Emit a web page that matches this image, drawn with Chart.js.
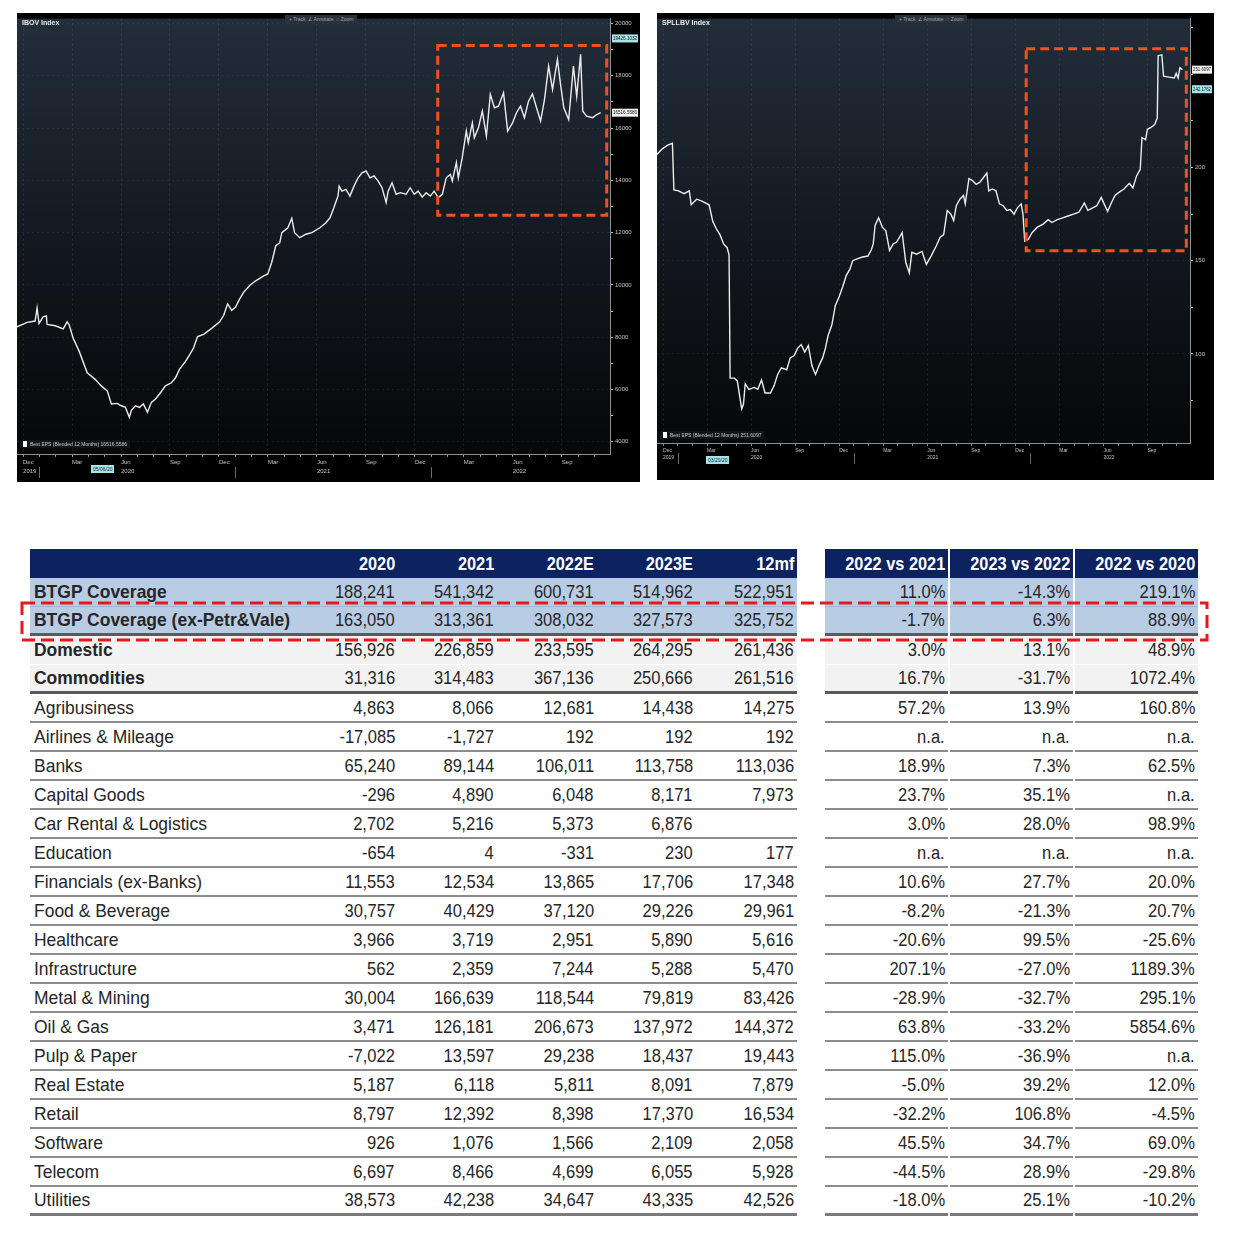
<!DOCTYPE html>
<html>
<head>
<meta charset="utf-8">
<title>IBOV / SPLLBV EPS and BTGP coverage earnings</title>
<script src="https://cdn.jsdelivr.net/npm/chart.js@4.4.0/dist/chart.umd.min.js"></script>
<style>
  body { margin: 0; width: 1234px; height: 1238px; background: #fff; position: relative; overflow: hidden;
         font-family: "Liberation Sans", Arial, sans-serif; }
  .panel { position: absolute; background: #000; }
  .panel canvas { position: absolute; left: 0; top: 0; }
  .bbg-title { position: absolute; color: #e8e8e8; font: bold 7px "Liberation Sans", sans-serif; }
  .bbg-tools { position: absolute; background: #2b3139; color: #9ca5ae; font: 5px "Liberation Sans", sans-serif;
               padding: 1px 4px; white-space: nowrap; }
  .bbg-legend { position: absolute; color: #c8c8c8; font: 5px "Liberation Sans", sans-serif; white-space: nowrap;
                background: rgba(20,22,26,0.9); padding: 1px 3px; }
  .bbg-legend i { display: inline-block; width: 4px; height: 6px; background: #fff; margin-right: 3px; vertical-align: -1px; }
  .bbg-date { position: absolute; background: #a6e4e8; color: #123; font: 5px "Liberation Sans", sans-serif; padding: 1px 2px; }
  .tbl { position: absolute; top: 549px; color: #262626; font-size: 19px; }
  .row { display: flex; height: 29px; }
  .cell { box-sizing: border-box; height: 29px; display: flex; align-items: center; justify-content: flex-end;
          padding-right: 3px; white-space: nowrap; }
  .cell.lbl { justify-content: flex-start; padding-left: 4px; }
  .t { display: inline-block; transform: scaleX(0.87); transform-origin: right center; }
  .lbl .t { transform: scaleX(0.92); transform-origin: left center; }
  .hdr .t { transform: scaleX(0.86); }
  .hdr .cell { background: #0c2261; color: #fff; font-weight: bold; }
  .blue .cell { background: #b8cce4; }
  .grey .cell { background: #f2f2f2; }
  .strong .lbl { font-weight: bold; }
  .gap .cell + .cell { margin-left: 2px; }
</style>
</head>
<body>

<div class="panel" style="left:17px;top:13px;width:623px;height:469px">
  <canvas id="ibovChart" width="623" height="469"></canvas>
  <div class="bbg-title" style="left:5px;top:6px">IBOV Index</div>
  <div class="bbg-tools" style="left:268px;top:2px">+ Track &nbsp;&#8736; Annotate &nbsp;&#9675; Zoom</div>
  <div class="bbg-legend" style="left:3px;top:427px"><i></i>Best EPS (Blended 12 Months) 16516.5586</div>
  <div class="bbg-date" style="left:74px;top:452px">05/06/20</div>
</div>

<div class="panel" style="left:657px;top:13px;width:557px;height:467px">
  <canvas id="spllbvChart" width="557" height="467"></canvas>
  <div class="bbg-title" style="left:5px;top:6px">SPLLBV Index</div>
  <div class="bbg-tools" style="left:238px;top:2px">+ Track &nbsp;&#8736; Annotate &nbsp;&#9675; Zoom</div>
  <div class="bbg-legend" style="left:3px;top:418px"><i></i>Best EPS (Blended 12 Months) 251.6097</div>
  <div class="bbg-date" style="left:49px;top:443px">03/20/20</div>
</div>

<div class="tbl" id="earnTable" style="left:30px;width:767px"></div>
<div class="tbl" id="growthTable" style="left:825px;width:373px"></div>
<svg width="1190" height="42" style="position:absolute;left:20px;top:601px">
  <rect x="2" y="2" width="1185" height="37" fill="none" stroke="#e3191c" stroke-width="3" stroke-dasharray="13 6"/>
</svg>

<script>
// ---- chart data: x is months after Dec 2019, y is Best EPS (blended 12m) ----
const ibovMonths = [-0.37,0.25,0.74,0.86,0.98,1.23,1.43,1.47,1.97,2.46,2.70,2.83,3.07,3.44,3.93,4.42,4.79,5.16,5.41,5.77,
  6.02,6.27,6.51,6.63,6.88,7.13,7.37,7.62,7.86,8.11,8.35,8.72,9.09,9.34,9.58,9.95,10.20,10.44,10.69,11.06,
  11.55,12.04,12.29,12.53,12.78,13.02,13.27,13.51,13.88,14.25,14.74,14.99,15.23,15.48,15.72,15.85,16.22,16.46,16.63,16.95,
  17.32,17.69,18.18,18.55,18.80,19.04,19.29,19.36,19.53,19.78,20.02,20.27,20.52,20.76,21.01,21.25,21.50,21.74,21.99,22.24,
  22.36,22.60,22.85,23.10,23.46,23.71,23.96,24.20,24.45,24.69,24.94,25.18,25.43,25.68,25.92,26.17,26.29,26.54,26.66,26.90,
  27.15,27.27,27.52,27.64,27.89,28.13,28.38,28.62,28.87,29.12,29.43,29.68,29.98,30.22,30.47,30.71,30.96,31.20,31.45,31.70,
  31.94,32.19,32.43,32.73,32.92,33.12,33.42,33.71,33.91,34.15,34.28,34.52,34.89,35.14,35.38];
const ibovEps = [8400,8570,8620,9120,8530,8780,8820,8490,8440,8320,8590,8470,7960,7460,6640,6390,6140,5950,5450,5470,
  5380,5320,4940,5200,5380,5320,5450,5130,5510,5640,5820,6140,6260,6450,6770,7080,7330,7590,8030,8110,
  8340,8590,8840,9280,9030,9160,9470,9720,9980,10160,10350,10420,10860,11500,11610,12000,12190,12550,12000,11810,
  11940,12000,12190,12380,12570,12960,13400,13780,13590,13660,13400,13780,14100,14290,14360,14100,14170,13980,13720,13150,
  13590,13910,13470,13530,13470,13720,13470,13590,13360,13530,13400,13590,13340,13470,14100,14230,13980,14680,14100,14870,
  15890,15440,16200,15630,16010,16650,15700,17290,16780,16840,17350,15890,16200,16590,16840,16400,17030,17310,16780,16270,
  17100,18370,17480,18630,17670,16780,16330,18370,17220,18820,16650,16460,16400,16520,16590];

const spllbvMonths = [-0.42,-0.05,0.32,0.64,0.74,1.06,1.43,1.79,1.92,2.29,2.65,3.14,3.39,3.64,3.88,4.13,4.37,4.50,4.57,4.86,
  5.06,5.23,5.36,5.48,5.60,5.85,6.22,6.46,6.71,6.95,7.32,7.57,7.81,8.06,8.43,8.67,8.92,9.17,9.41,9.66,
  9.90,10.15,10.39,10.64,10.88,11.06,11.25,11.50,11.74,11.99,12.24,12.48,12.73,12.92,13.22,13.59,13.96,14.20,14.32,14.45,
  14.69,14.94,15.18,15.43,15.68,15.92,16.29,16.54,16.78,16.95,17.27,17.64,17.94,18.26,18.62,18.87,19.12,19.36,19.61,19.80,
  19.98,20.22,20.47,20.59,20.84,21.08,21.33,21.57,21.82,22.06,22.19,22.43,22.68,22.92,23.17,23.42,23.66,23.91,24.15,24.40,
  24.52,24.64,24.89,25.14,25.50,25.87,26.24,26.49,26.86,27.22,27.59,27.96,28.33,28.70,28.94,29.31,29.55,29.85,30.05,30.29,
  30.54,30.79,31.03,31.40,31.77,32.01,32.26,32.51,32.63,32.87,33.00,33.24,33.49,33.67,33.73,33.98,34.10,34.46,34.83,34.96,
  35.09,35.21,35.38];
const spllbvEps = [207,210,212,213,188,187.5,186,187.5,180,183,182,180,171,167,164,159,157,153,87,87,
  85.5,77,70.5,73,84,81,82,81,86,79,79,83,89,92.5,91.5,98,99,103,105,101,
  104.5,93.5,89,94,98,103,110,115.5,126,130.5,136,142,145.5,150,151,152,152.5,156,159,169,
  173,168,166,155.5,159,160,165,149,143.5,154.5,153.5,155,148,152.5,158,162.5,164,177,175,171.5,
  179.5,183,185,180.5,194,193,191,192,194.5,197,187.5,188.5,187.5,180.5,179.5,177,177.5,175,178.5,180.5,
  175,160.5,161.5,165,168,169.5,172,170.5,172,173,174,175,176,181,177,178.5,179.5,184,180.5,176.5,
  181,185,186.5,188.5,191.5,189,195.5,199,216,215,220.5,221.5,223,226.5,260,260.5,249,248.5,248,250.5,
  248,253.5,252.5];

// x axis: quarter ticks (months after Dec 2019) and their labels
const quarterTicks = [0,3,6,9,12,15,18,21,24,27,30,33];
const quarterLabels = ['Dec','Mar','Jun','Sep','Dec','Mar','Jun','Sep','Dec','Mar','Jun','Sep'];
const yearLabels = ['2019','','2020','','','','2021','','','','2022',''];
const yearStarts = [1,13,25];

// y axis ticks
const ibovTicks = [4000,5000,6000,7000,8000,9000,10000,11000,12000,13000,14000,15000,16000,17000,18000,19000,20000];
const ibovLabelled = [4000,6000,8000,10000,12000,14000,16000,18000,20000];
const spllbvTicks = [75,100,125,150,175,200,225,250,275];
const spllbvLabelled = [100,150,200];

// highlighted windows [fromMonth, toMonth, lowEps, highEps]
const ibovWindow = [25.4, 35.75, 12670, 19160];
const spllbvWindow = [24.74, 35.65, 155.3, 263.7];

// ---- table data ----
const sectorNames = ['BTGP Coverage','BTGP Coverage (ex-Petr&Vale)','Domestic','Commodities','Agribusiness',
  'Airlines & Mileage','Banks','Capital Goods','Car Rental & Logistics','Education','Financials (ex-Banks)',
  'Food & Beverage','Healthcare','Infrastructure','Metal & Mining','Oil & Gas','Pulp & Paper','Real Estate',
  'Retail','Software','Telecom','Utilities'];
const earningsHeaders = ['2020','2021','2022E','2023E','12mf'];
const eps2020 = [188241,163050,156926,31316,4863,-17085,65240,-296,2702,-654,11553,30757,3966,562,30004,3471,-7022,5187,8797,926,6697,38573];
const eps2021 = [541342,313361,226859,314483,8066,-1727,89144,4890,5216,4,12534,40429,3719,2359,166639,126181,13597,6118,12392,1076,8466,42238];
const eps2022E = [600731,308032,233595,367136,12681,192,106011,6048,5373,-331,13865,37120,2951,7244,118544,206673,29238,5811,8398,1566,4699,34647];
const eps2023E = [514962,327573,264295,250666,14438,192,113758,8171,6876,230,17706,29226,5890,5288,79819,137972,18437,8091,17370,2109,6055,43335];
const eps12mf = [522951,325752,261436,261516,14275,192,113036,7973,null,177,17348,29961,5616,5470,83426,144372,19443,7879,16534,2058,5928,42526];
const growthHeaders = ['2022 vs 2021','2023 vs 2022','2022 vs 2020'];
const chg22vs21 = [11.0,-1.7,3.0,16.7,57.2,null,18.9,23.7,3.0,null,10.6,-8.2,-20.6,207.1,-28.9,63.8,115.0,-5.0,-32.2,45.5,-44.5,-18.0];
const chg23vs22 = [-14.3,6.3,13.1,-31.7,13.9,null,7.3,35.1,28.0,null,27.7,-21.3,99.5,-27.0,-32.7,-33.2,-36.9,39.2,106.8,34.7,28.9,25.1];
const chg22vs20 = [219.1,88.9,48.9,1072.4,160.8,null,62.5,null,98.9,null,20.0,20.7,-25.6,1189.3,295.1,5854.6,null,12.0,-4.5,69.0,-29.8,-10.2];

// ---- Bloomberg style chart ----
const bbgPlugin = {
  id: 'bbg',
  beforeDraw(chart) {
    const { ctx, chartArea: a } = chart;
    ctx.save();
    ctx.fillStyle = '#000';
    ctx.fillRect(0, 0, chart.width, chart.height);
    const g = ctx.createLinearGradient(0, a.top, 0, a.bottom);
    g.addColorStop(0, '#232e3b');
    g.addColorStop(0.5, '#131920');
    g.addColorStop(1, '#060708');
    ctx.fillStyle = g;
    ctx.fillRect(a.left, a.top, a.width, a.height);
    ctx.restore();
  },
  afterDatasetsDraw(chart, args, opts) {
    const { ctx, chartArea: a } = chart;
    const x = chart.scales.x, y = chart.scales.y;
    const [m0, m1, v0, v1] = opts.window;
    ctx.save();
    // highlighted window
    ctx.strokeStyle = '#f0511f';
    ctx.lineWidth = 3;
    ctx.setLineDash([9, 5]);
    const l = x.getPixelForValue(m0), r = x.getPixelForValue(m1);
    const t = y.getPixelForValue(v1), b = y.getPixelForValue(v0);
    ctx.strokeRect(l, t, r - l, b - t);
    ctx.setLineDash([]);
    // year separators under the month labels
    ctx.strokeStyle = '#6a6a6a';
    ctx.lineWidth = 1;
    yearStarts.forEach(m => {
      const px = Math.round(x.getPixelForValue(m)) + 0.5;
      ctx.beginPath();
      ctx.moveTo(px, a.bottom + opts.sepTop);
      ctx.lineTo(px, a.bottom + opts.sepTop + 11);
      ctx.stroke();
    });
    // value tags on the right axis
    ctx.font = '5px "Liberation Sans", sans-serif';
    ctx.textBaseline = 'middle';
    opts.tags.forEach(tag => {
      const py = y.getPixelForValue(tag.value);
      ctx.fillStyle = tag.bg;
      ctx.fillRect(a.right + 2, py - 4, chart.width - a.right - 4, 8);
      ctx.fillStyle = '#111';
      ctx.fillText(tag.text, a.right + 3, py, chart.width - a.right - 6);
    });
    ctx.restore();
  }
};

function makeBbgChart(id, months, values, opt) {
  const points = months.map((m, i) => ({ x: m, y: values[i] }));
  const yTicks = opt.yTicks.concat([opt.yMax]);   // last tick: unlabelled, keeps the plot flush with the top
  return new Chart(document.getElementById(id), {
    type: 'line',
    data: { datasets: [{ data: points, borderColor: '#ececec', borderWidth: 1.4, pointRadius: 0, tension: 0 }] },
    plugins: [bbgPlugin],
    options: {
      responsive: false,
      animation: false,
      layout: { padding: 0 },
      plugins: { legend: { display: false }, tooltip: { enabled: false },
                 bbg: { window: opt.window, tags: opt.tags, sepTop: opt.sepTop } },
      scales: {
        x: {
          type: 'linear', min: opt.xMin, max: opt.xMax,
          afterBuildTicks: s => { s.ticks = []; for (let m = 0; m <= 35; m++) s.ticks.push({ value: m }); },
          afterFit: s => { s.height = opt.xHeight; },
          ticks: {
            autoSkip: false, maxRotation: 0, align: 'start', padding: 1, color: '#c4c4c4',
            font: { family: '"Liberation Sans", sans-serif', size: opt.xFont, lineHeight: opt.xLine },
            callback: v => {
              const q = quarterTicks.indexOf(v);
              if (q < 0) return '';
              return yearLabels[q] ? [quarterLabels[q], yearLabels[q]] : quarterLabels[q];
            }
          },
          grid: {
            color: c => (c.tick && quarterTicks.includes(c.tick.value)) ? 'rgba(150,160,172,0.16)' : 'rgba(0,0,0,0)',
            tickColor: '#8a8a8a', tickLength: 3
          },
          border: { color: '#8f8f8f', dash: [2, 3] }
        },
        y: {
          type: 'linear', position: 'right', min: opt.yMin, max: opt.yMax,
          afterBuildTicks: s => { s.ticks = yTicks.map(v => ({ value: v })); },
          afterFit: s => { s.width = opt.yWidth; },
          ticks: {
            padding: 2, color: '#c4c4c4',
            font: { family: '"Liberation Sans", sans-serif', size: 6 },
            callback: v => v === opt.yMax ? null : (opt.yLabelled.includes(v) ? String(v) : '')
          },
          grid: {
            color: c => (c.tick && opt.yLabelled.includes(c.tick.value)) ? 'rgba(150,160,172,0.10)' : 'rgba(0,0,0,0)',
            tickColor: '#bdbdbd', tickLength: 3
          },
          border: { color: '#8f8f8f', dash: [2, 3] }
        }
      }
    }
  });
}

makeBbgChart('ibovChart', ibovMonths, ibovEps, {
  xMin: -0.37, xMax: 35.95, yMin: 3535, yMax: 20189, xHeight: 28, yWidth: 30,
  xFont: 6, xLine: 1.5, sepTop: 13,
  yTicks: ibovTicks, yLabelled: ibovLabelled, window: ibovWindow,
  tags: [{ value: 19430, text: '19426.1032', bg: '#a6e4e8' },
         { value: ibovEps[ibovEps.length - 1], text: '16516.5586', bg: '#f2f2f2' }]
});

makeBbgChart('spllbvChart', spllbvMonths, spllbvEps, {
  xMin: -0.41, xMax: 35.9, yMin: 52.2, yMax: 279.9, xHeight: 37, yWidth: 24,
  xFont: 5, xLine: 1.4, sepTop: 10,
  yTicks: spllbvTicks, yLabelled: spllbvLabelled, window: spllbvWindow,
  tags: [{ value: spllbvEps[spllbvEps.length - 1], text: '251.6097', bg: '#f2f2f2' },
         { value: 242, text: '242.1762', bg: '#a6e4e8' }]
});

// ---- tables ----
const fmtNum = v => v === null ? '' : v.toLocaleString('en-US');
const fmtPct = v => v === null ? 'n.a.' : v.toFixed(1) + '%';

function rowBorder(i) {
  if (i === 0) return '1px solid #9db7d6';
  if (i === 1 || i === 3) return '3px solid #5a5a5a';
  if (i === 2) return '1px solid #fff';
  if (i === sectorNames.length - 1) return '3px solid #7a7a7a';
  return '2px solid #8c8c8c';
}
function rowClass(i) {
  if (i < 2) return 'row blue strong';
  if (i < 4) return 'row grey strong';
  return 'row';
}
const span = s => '<span class="t">' + s + '</span>';

function buildTable(el, widths, headers, columns, fmt, withLabel, gapped) {
  const off = withLabel ? 1 : 0;
  let html = '<div class="row hdr' + (gapped ? ' gap' : '') + '">';
  if (withLabel) html += '<div class="cell lbl" style="width:' + widths[0] + 'px"></div>';
  headers.forEach((h, c) => {
    html += '<div class="cell" style="width:' + widths[c + off] + 'px">' + span(h) + '</div>';
  });
  html += '</div>';
  sectorNames.forEach((name, i) => {
    html += '<div class="' + rowClass(i) + (gapped ? ' gap' : '') + '">';
    const bd = 'border-bottom:' + rowBorder(i) + ';';
    if (withLabel) html += '<div class="cell lbl" style="width:' + widths[0] + 'px;' + bd + '">' + span(name.replace('&', '&amp;')) + '</div>';
    columns.forEach((col, c) => {
      html += '<div class="cell" style="width:' + widths[c + off] + 'px;' + bd + '">' + span(fmt(col[i])) + '</div>';
    });
    html += '</div>';
  });
  el.innerHTML = html;
}

buildTable(document.getElementById('earnTable'), [268, 100, 99, 100, 99, 101],
  earningsHeaders, [eps2020, eps2021, eps2022E, eps2023E, eps12mf], fmtNum, true, false);
buildTable(document.getElementById('growthTable'), [123, 123, 123],
  growthHeaders, [chg22vs21, chg23vs22, chg22vs20], fmtPct, false, true);
</script>
</body>
</html>
